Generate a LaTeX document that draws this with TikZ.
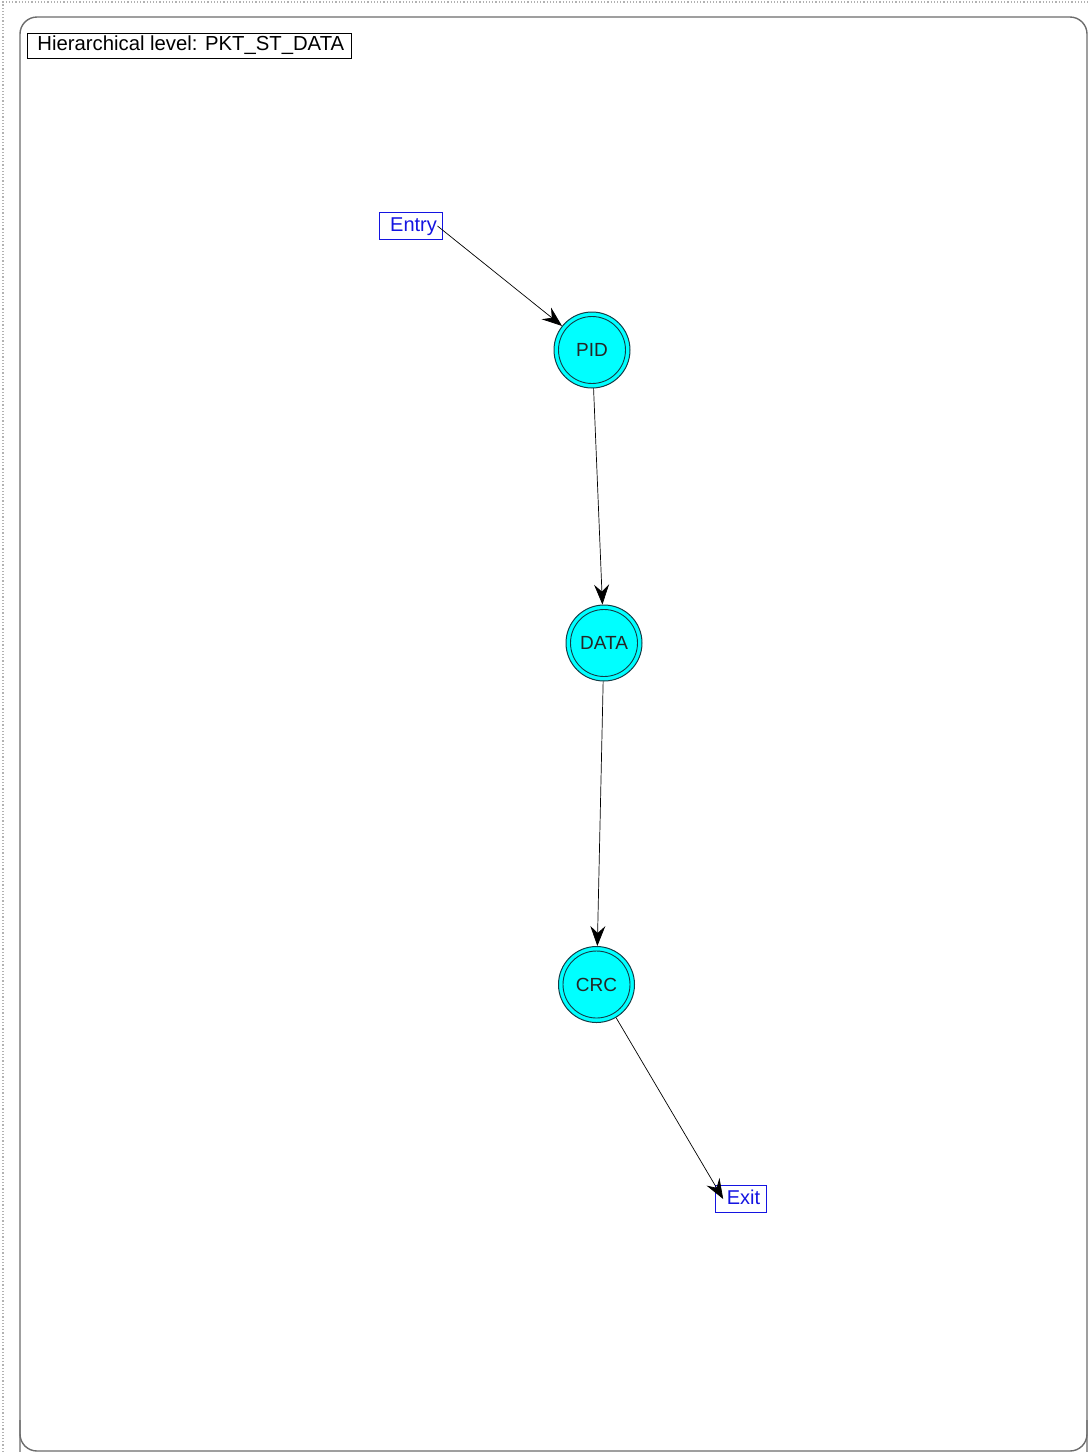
\documentclass[tikz,border=0pt]{standalone}
\usepackage{fontspec}
\setmainfont{Liberation Sans}
\usetikzlibrary{arrows.meta}
\definecolor{entryblue}{RGB}{20,20,225}
\definecolor{stcyan}{RGB}{0,255,255}
\definecolor{ringline}{RGB}{20,60,70}
\tikzset{
  statenode/.style={circle, draw=ringline, line width=1pt, fill=stcyan, minimum size=76pt, inner sep=0pt,
     font=\fontsize{19}{21}\selectfont, text=black!85},
  innerring/.style={circle, draw=ringline, line width=0.9pt, minimum size=67pt, inner sep=0pt},
  portbox/.style={draw=entryblue, line width=1.3pt, text=entryblue, font=\fontsize{20}{22}\selectfont,
     inner ysep=4pt, text height=14.5pt, text depth=4pt},
  titlebox/.style={draw=black, line width=0.8pt, font=\fontsize{20.3}{22}\selectfont, inner ysep=3pt, text height=14.5pt, text depth=4.5pt, anchor=west},
  flow/.style={draw=black, line width=0.7pt, -{Stealth[length=20pt, width=15pt, inset=7pt]}},
}
\begin{document}
\begin{tikzpicture}[x=1pt, y=-1pt]
\useasboundingbox (0,0) rectangle (1088,1452);
% outer dotted frame
\draw[gray!60, dotted, line width=1.2pt] (3,1452) -- (3,2) -- (1088,2);
% rounded frame
\draw[gray!85!black, line width=1.4pt, rounded corners=17pt] (20,1475) -- (20,17) -- (1087,17) -- (1087,1475);
\draw[gray!85!black, line width=1.4pt, rounded corners=17pt] (20,1420) -- (20,1451) -- (1087,1451) -- (1087,1420);
% title
\node[titlebox, inner xsep=0pt] (title) at (27,45.5) {\hspace*{10pt}Hierarchical level: PKT\_ST\_DATA\hspace*{7pt}};
% states
\node[statenode] (pid) at (592,350) {PID};
\node[innerring] (pidin) at (592,350) {};
\node[statenode] (data) at (604,643) {DATA};
\node[innerring] (datain) at (604,643) {};
\node[statenode] (crc) at (596.5,984.5) {CRC};
\node[innerring] (crcin) at (596.5,984.5) {};
% ports
\node[portbox, inner xsep=0pt] (entry) at (411,226) {\hspace*{11pt}Entry\hspace*{6pt}};
\node[portbox, inner xsep=0pt] (exit) at (741,1199) {\hspace*{11pt}Exit\hspace*{6pt}};
% connectors
\draw[flow] ([xshift=-6pt]entry.east) -- (pid);
\draw[flow] (pid) -- (data);
\draw[flow] (data) -- (crc);
\draw[flow] (crc) -- ([xshift=8pt]exit.west);
\end{tikzpicture}
\end{document}
